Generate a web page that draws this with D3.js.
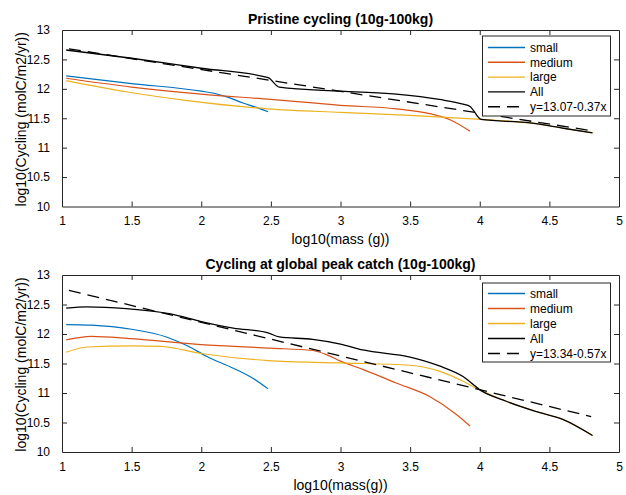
<!DOCTYPE html>
<html>
<head>
<meta charset="utf-8">
<script src="https://cdn.jsdelivr.net/npm/d3@7"></script>
<style>
  body { margin: 0; background: #fff; }
  svg text { font-family: "Liberation Sans", Arial, Helvetica, sans-serif; fill: #000; }
</style>
</head>
<body>
<svg id="chart"></svg>
<script>
let w = 626
let h = 495

// series names + colors (legend order)
let seriesNames = ['small', 'medium', 'large', 'All']
let seriesColors = ['#0072BD', '#D95319', '#EDB120', '#000000']

let xTicks = [1, 1.5, 2, 2.5, 3, 3.5, 4, 4.5, 5]
let yTicks = [10, 10.5, 11, 11.5, 12, 12.5, 13]

// ---- top panel: pristine cycling ----
let topSmallX = [1.03, 1.5, 2.0, 2.1, 2.2, 2.3, 2.4, 2.48]
let topSmallY = [12.22, 12.09, 11.96, 11.92, 11.85, 11.76, 11.68, 11.61]
let topMediumX = [1.03, 1.5, 2.0, 2.5, 3.0, 3.4, 3.64, 3.79, 3.93]
let topMediumY = [12.18, 12.03, 11.91, 11.82, 11.72, 11.66, 11.58, 11.47, 11.28]
let topLargeX = [1.03, 1.46, 1.9, 2.48, 3.0, 3.5, 4.01, 4.36, 4.6, 4.81]
let topLargeY = [12.14, 11.95, 11.80, 11.66, 11.60, 11.55, 11.48, 11.42, 11.33, 11.25]
let topAllX = [1.03, 1.5, 2.0, 2.48, 2.56, 3.0, 3.4, 3.71, 3.88, 3.93, 4.01, 4.36, 4.6, 4.81]
let topAllY = [12.66, 12.52, 12.35, 12.19, 12.03, 11.96, 11.91, 11.82, 11.74, 11.70, 11.48, 11.42, 11.33, 11.25]
let topFitX = [1.05, 4.8]
let topFitY = [12.68, 11.29]

// ---- bottom panel: cycling at global peak catch ----
let botSmallX = [1.03, 1.21, 1.5, 1.75, 1.9, 2.04, 2.23, 2.37, 2.48]
let botSmallY = [12.16, 12.15, 12.08, 11.95, 11.80, 11.62, 11.42, 11.25, 11.07]
let botMediumX = [1.03, 1.21, 1.5, 2.0, 2.5, 2.8, 2.9, 3.0, 3.16, 3.4, 3.64, 3.83, 3.93]
let botMediumY = [11.90, 11.96, 11.92, 11.82, 11.76, 11.72, 11.65, 11.54, 11.40, 11.17, 10.94, 10.64, 10.44]
let botLargeX = [1.03, 1.18, 1.5, 1.71, 2.0, 2.48, 3.0, 3.5, 3.71, 3.88, 4.01, 4.19, 4.4, 4.6, 4.81]
let botLargeY = [11.69, 11.78, 11.80, 11.79, 11.67, 11.55, 11.51, 11.47, 11.37, 11.20, 11.04, 10.86, 10.69, 10.55, 10.28]
let botAllX = [1.03, 1.18, 1.46, 1.78, 2.0, 2.23, 2.48, 2.56, 2.8, 3.0, 3.16, 3.5, 3.71, 3.88, 4.01, 4.19, 4.4, 4.6, 4.81]
let botAllY = [12.44, 12.46, 12.43, 12.34, 12.21, 12.10, 12.02, 11.95, 11.91, 11.83, 11.73, 11.61, 11.46, 11.28, 11.04, 10.86, 10.69, 10.55, 10.28]
let botFitX = [1.05, 4.8]
let botFitY = [12.74, 10.60]

let zip = (xs, ys) => xs.map((x, i) => [x, ys[i]])

let panels = [
  {
    title: 'Pristine cycling (10g-100kg)',
    xlabel: 'log10(mass (g))',
    fitLabel: 'y=13.07-0.37x',
    top: 30, bottom: 206.5,
    series: [zip(topSmallX, topSmallY), zip(topMediumX, topMediumY), zip(topLargeX, topLargeY), zip(topAllX, topAllY)],
    fit: zip(topFitX, topFitY),
    legend: {x: 482.5, y: 36, w: 128, h: 80, row0: 47.5, step: 14.8}
  },
  {
    title: 'Cycling at global peak catch (10g-100kg)',
    xlabel: 'log10(mass(g))',
    fitLabel: 'y=13.34-0.57x',
    top: 275, bottom: 452,
    series: [zip(botSmallX, botSmallY), zip(botMediumX, botMediumY), zip(botLargeX, botLargeY), zip(botAllX, botAllY)],
    fit: zip(botFitX, botFitY),
    legend: {x: 482.5, y: 283, w: 128, h: 79, row0: 293.5, step: 15}
  }
]

let svg = d3.select('#chart')
  .attr('width', w)
  .attr('height', h)

let x = d3.scaleLinear().domain([1, 5]).range([62, 619])

let drawPanel = (p) => {
  let y = d3.scaleLinear().domain([10, 13]).range([p.bottom, p.top])
  let g = svg.append('g')

  // box
  g.append('rect')
    .attr('x', x(1)).attr('y', p.top)
    .attr('width', x(5) - x(1)).attr('height', p.bottom - p.top)
    .attr('fill', '#fff')

  let line = d3.line()
    .x(d => x(d[0]))
    .y(d => y(d[1]))
    .curve(d3.curveMonotoneX)

  g.selectAll('path.series')
    .data(p.series)
    .join('path')
    .attr('class', 'series')
    .attr('d', line)
    .attr('fill', 'none')
    .attr('stroke', (d, i) => seriesColors[i])
    .attr('stroke-width', (d, i) => i === 3 ? 1.3 : 1.2)

  g.append('path')
    .attr('d', d3.line().x(d => x(d[0])).y(d => y(d[1]))(p.fit))
    .attr('fill', 'none')
    .attr('stroke', '#000')
    .attr('stroke-width', 1.3)
    .attr('stroke-dasharray', '12,7')

  // axes, ticks pointing inward
  let axisStyle = (sel) => {
    sel.selectAll('path').attr('stroke', '#262626').attr('stroke-width', 1)
    sel.selectAll('line').attr('stroke', '#262626')
    sel.selectAll('text').attr('font-size', 12).attr('fill', '#000')
  }

  g.append('g')
    .attr('transform', `translate(0,${p.bottom})`)
    .call(d3.axisBottom(x).tickValues(xTicks).tickSizeInner(-5).tickSizeOuter(0).tickPadding(10).tickFormat(d3.format('')))
    .call(axisStyle)
  g.append('g')
    .attr('transform', `translate(0,${p.top})`)
    .call(d3.axisTop(x).tickValues(xTicks).tickSizeInner(-5).tickSizeOuter(0).tickFormat(''))
    .call(axisStyle)
  g.append('g')
    .attr('transform', `translate(${x(1)},0)`)
    .call(d3.axisLeft(y).tickValues(yTicks).tickSizeInner(-5).tickSizeOuter(0).tickPadding(12).tickFormat(d3.format('')))
    .call(axisStyle)
  g.append('g')
    .attr('transform', `translate(${x(5)},0)`)
    .call(d3.axisRight(y).tickValues(yTicks).tickSizeInner(-5).tickSizeOuter(0).tickFormat(''))
    .call(axisStyle)
  g.selectAll('.domain').attr('stroke', '#262626')
  // remove end ticks sitting on the box corners
  g.selectAll('.tick').filter(d => d === 1 || d === 5 || d === 10 || d === 13).select('line').remove()

  // titles & labels
  g.append('text')
    .attr('x', (x(1) + x(5)) / 2).attr('y', p.top - 6)
    .attr('text-anchor', 'middle')
    .attr('font-size', 14).attr('font-weight', 'bold')
    .text(p.title)
  g.append('text')
    .attr('x', (x(1) + x(5)) / 2).attr('y', p.bottom + 37.5)
    .attr('text-anchor', 'middle')
    .attr('font-size', 14)
    .text(p.xlabel)
  g.append('text')
    .attr('transform', `translate(25.5,${(p.top + p.bottom) / 2 + 1}) rotate(-90)`)
    .attr('text-anchor', 'middle')
    .attr('font-size', 14)
    .text('log10(Cycling (molC/m2/yr))')

  // legend
  let L = p.legend
  let lg = g.append('g')
  lg.append('rect')
    .attr('x', L.x).attr('y', L.y).attr('width', L.w).attr('height', L.h)
    .attr('fill', '#fff').attr('stroke', '#262626').attr('stroke-width', 1)
  let labels = seriesNames.concat([p.fitLabel])
  labels.forEach((name, i) => {
    let ly = L.row0 + i * L.step
    lg.append('line')
      .attr('x1', 488).attr('x2', 525)
      .attr('y1', ly).attr('y2', ly)
      .attr('stroke', i < 4 ? seriesColors[i] : '#000')
      .attr('stroke-width', 1.4)
      .attr('stroke-dasharray', i === 4 ? '12,7' : null)
    lg.append('text')
      .attr('x', 530).attr('y', ly)
      .attr('dy', '0.35em')
      .attr('font-size', 12)
      .text(name)
  })
}

panels.forEach(drawPanel)
</script>
</body>
</html>
